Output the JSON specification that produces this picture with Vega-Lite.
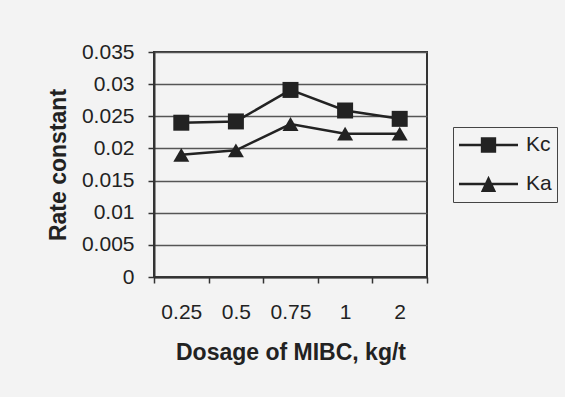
{
  "$schema": "https://vega.github.io/schema/vega-lite/v6.json",
  "width": 273,
  "height": 225,
  "autosize": {"type": "none"},
  "padding": {"left": 154, "top": 52, "right": 138, "bottom": 120},
  "background": "#f3f3f3",
  "config": {
    "font": "Liberation Sans",
    "view": {"stroke": "#333333", "strokeWidth": 2},
    "axis": {
      "labelColor": "#222222",
      "titleColor": "#222222",
      "labelFont": "Liberation Sans",
      "titleFont": "Liberation Sans",
      "domainColor": "#333333",
      "domainWidth": 2,
      "tickColor": "#333333",
      "tickWidth": 1.5,
      "tickSize": 6
    }
  },
  "data": {
    "values": [
      {"dosage": "0.25", "series": "Kc", "value": 0.0240},
      {"dosage": "0.5", "series": "Kc", "value": 0.0242},
      {"dosage": "0.75", "series": "Kc", "value": 0.0291},
      {"dosage": "1", "series": "Kc", "value": 0.0259},
      {"dosage": "2", "series": "Kc", "value": 0.0246},
      {"dosage": "0.25", "series": "Ka", "value": 0.0190},
      {"dosage": "0.5", "series": "Ka", "value": 0.0197},
      {"dosage": "0.75", "series": "Ka", "value": 0.0238},
      {"dosage": "1", "series": "Ka", "value": 0.0223},
      {"dosage": "2", "series": "Ka", "value": 0.0223}
    ]
  },
  "encoding": {
    "x": {
      "field": "dosage",
      "type": "ordinal",
      "sort": ["0.25", "0.5", "0.75", "1", "2"],
      "bandPosition": 0.5,
      "scale": {"type": "band", "paddingInner": 0, "paddingOuter": 0},
      "axis": {
        "title": "Dosage of MIBC, kg/t",
        "titleFontSize": 23,
        "titleFontWeight": "bold",
        "titlePadding": 19,
        "labelFontSize": 21,
        "labelAngle": 0,
        "labelPadding": 18,
        "tickBand": "extent",
        "grid": false
      }
    },
    "y": {
      "field": "value",
      "type": "quantitative",
      "scale": {"domain": [0, 0.035], "nice": false},
      "axis": {
        "title": "Rate constant",
        "titleFontSize": 23,
        "titleFontWeight": "bold",
        "titlePadding": 11,
        "labelFontSize": 21,
        "labelPadding": 14,
        "values": [0, 0.005, 0.01, 0.015, 0.02, 0.025, 0.03, 0.035],
        "format": "~g",
        "grid": true,
        "gridColor": "#555555",
        "gridWidth": 1.5,
        "gridOpacity": 1
      }
    }
  },
  "resolve": {"scale": {"shape": "independent"}, "legend": {"shape": "independent"}},
  "layer": [
    {
      "mark": {"type": "line", "strokeWidth": 2.5, "color": "#222222"},
      "encoding": {"detail": {"field": "series", "type": "nominal"}}
    },
    {
      "mark": {"type": "point", "filled": true, "size": 256, "opacity": 1, "color": "#222222"},
      "encoding": {
        "shape": {
          "field": "series",
          "type": "nominal",
          "scale": {"domain": ["Kc", "Ka"], "range": ["square", "triangle-up"]},
          "legend": null
        }
      }
    },
    {
      "mark": {"type": "point", "filled": true, "size": 256, "opacity": 0, "color": "#222222"},
      "encoding": {
        "shape": {
          "field": "series",
          "type": "nominal",
          "scale": {"domain": ["Kc", "Ka"], "range": ["M-1,-0.042H1V0.042H-1Z M-0.26,-0.26H0.26V0.26H-0.26Z", "M-1,-0.042H1V0.042H-1Z M0,-0.28L0.26,0.27H-0.26Z"]},
          "legend": {
            "title": null,
            "orient": "none",
            "legendX": 299,
            "legendY": 75,
            "strokeColor": "#444444",
            "fillColor": "#f3f3f3",
            "padding": 5,
            "clipHeight": 26,
            "rowPadding": 13,
            "labelFontSize": 21,
            "labelColor": "#222222",
            "labelOffset": 7,
            "symbolSize": 3481,
            "symbolFillColor": "#222222",
            "symbolOpacity": 1
          }
        }
      }
    }
  ]
}
